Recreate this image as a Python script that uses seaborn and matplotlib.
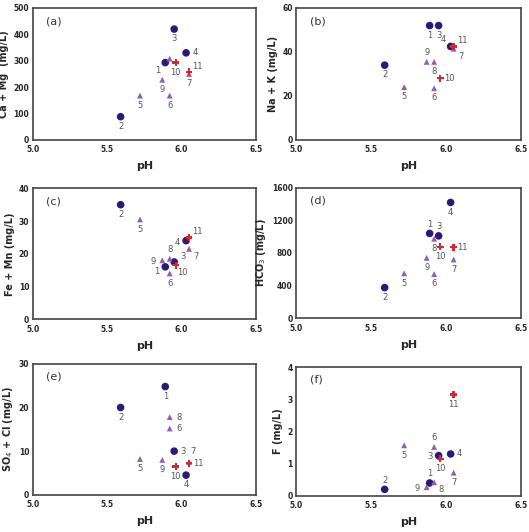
import numpy as np
import pandas as pd
import matplotlib
matplotlib.use("Agg")
import matplotlib.pyplot as plt
import seaborn as sns
from matplotlib.ticker import MultipleLocator

sns.set_style("white")
plt.rcParams['font.family'] = ['DejaVu Sans']

samples = [str(i) for i in range(1, 12)]
groups = ['A'] * 4 + ['B'] * 5 + ['C'] * 2
ph = [5.89, 5.59, 5.95, 6.03, 5.72, 5.92, 6.05, 5.92, 5.87, 5.96, 6.05]

ca_mg = [293, 88, 420, 330, 168, 168, 250, 308, 228, 293, 258]
na_k = [52, 34, 52, 42.5, 24, 23.5, 41.5, 35.5, 35.5, 28, 42.5]
fe_mn = [16, 35, 17.5, 24, 30.5, 14, 21.5, 18.5, 18, 16.5, 25]
hco3 = [1040, 375, 1010, 1420, 550, 540, 720, 975, 740, 875, 870]
so4_cl = [24.8, 20, 10, 4.5, 8.2, 15.2, 7.5, 17.8, 8, 6.5, 7.2]
fluor = [0.4, 0.2, 1.25, 1.3, 1.57, 1.52, 0.72, 0.42, 0.27, 1.15, 3.15]

df = pd.DataFrame({'sample': samples, 'group': groups, 'pH': ph,
                   'ca_mg': ca_mg, 'na_k': na_k, 'fe_mn': fe_mn,
                   'hco3': hco3, 'so4_cl': so4_cl, 'f': fluor})

palette = {'A': '#2b1a78', 'B': '#8f5fb8', 'C': '#e0232e'}
markers = {'A': 'o', 'B': '^', 'C': 'P'}
sizes = {'A': 30, 'B': 18, 'C': 24}

# label placement: offset in points around each marker
off = {'b': (0, -7), 'a': (0, 6.5), 'r': (6.5, 0), 'l': (-6.5, -1),
       'br': (5, -5.5), 'bl': (-5.5, -5.5), 'ar': (6, 4), 'al': (-5.5, 5),
       'lb': (-6, -3), 'up': (3, 7.5), '': None}

panels = [
    ('(a)', 'ca_mg', 'Ca + Mg  (mg/L)', 500, 100,
     ['bl', 'b', 'b', 'r', 'b', 'b', 'b', '', 'b', 'b', 'ar'],
     [0.062, 0.737, 0.422, 0.248]),
    ('(b)', 'na_k', 'Na + K (mg/L)', 60, 20,
     ['b', 'b', 'b', 'al', 'b', 'b', 'br', 'b', 'a', 'r', 'ar'],
     [0.560, 0.737, 0.425, 0.248]),
    ('(c)', 'fe_mn', 'Fe + Mn (mg/L)', 40, 10,
     ['lb', 'b', 'ar', 'l', 'b', 'b', 'br', 'a', 'l', 'br', 'ar'],
     [0.062, 0.400, 0.422, 0.246]),
    ('(d)', 'hco3', 'HCO$_3$ (mg/L)', 1600, 400,
     ['a', 'b', 'a', 'b', 'b', 'b', 'b', 'b', 'b', 'b', 'r'],
     [0.560, 0.402, 0.425, 0.245]),
    ('(e)', 'so4_cl', 'SO$_4$ + Cl (mg/L)', 30, 10,
     ['b', 'b', 'r', 'b', 'b', 'r', 'up', 'r', 'b', 'b', 'r'],
     [0.062, 0.070, 0.422, 0.246]),
    ('(f)', 'f', 'F (mg/L)', 4, 1,
     ['a', 'a', 'l', 'r', 'b', 'a', 'b', 'br', 'l', 'b', 'b'],
     [0.560, 0.068, 0.425, 0.242]),
]

fig = plt.figure(figsize=(5.29, 5.32), dpi=100)

for tag, col, ylabel, ymax, ystep, pos, rect in panels:
    ax = fig.add_axes(rect)
    for g in ['A', 'B', 'C']:
        sub = df[df['group'] == g]
        sns.scatterplot(data=sub, x='pH', y=col, ax=ax, color=palette[g],
                        marker=markers[g], s=sizes[g], edgecolor='none',
                        legend=False, zorder=3)
    for i, row in df.iterrows():
        o = off[pos[i]]
        if o is None:
            continue
        ax.annotate(row['sample'], (row['pH'], row[col]), xytext=o,
                    textcoords='offset points', ha='center', va='center',
                    fontsize=6, color='#555555')
    ax.set_xlim(5.0, 6.5)
    ax.set_ylim(0, ymax)
    ax.xaxis.set_major_locator(MultipleLocator(0.5))
    ax.xaxis.set_minor_locator(MultipleLocator(0.25))
    ax.yaxis.set_major_locator(MultipleLocator(ystep))
    ax.set_xticklabels([f'{v:.1f}' for v in ax.get_xticks()])
    ax.tick_params(which='both', direction='in', length=2.5, width=0.8,
                   labelsize=5.5, color='#333333')
    ax.tick_params(axis='x', pad=4)
    ax.tick_params(axis='y', pad=2.5)
    ax.tick_params(which='minor', length=2)
    for lab in ax.get_xticklabels() + ax.get_yticklabels():
        lab.set_fontweight('bold')
    for s in ax.spines.values():
        s.set_color('#444444')
        s.set_linewidth(1.2)
    ax.set_xlabel('pH', fontsize=8, fontweight='bold', labelpad=5)
    ax.set_ylabel(ylabel, fontsize=7, fontweight='bold', labelpad=3)
    ax.text(0.06, 0.9, tag, transform=ax.transAxes, fontsize=8,
            color='#333333', va='center')

fig.savefig('out.png', dpi=100)
